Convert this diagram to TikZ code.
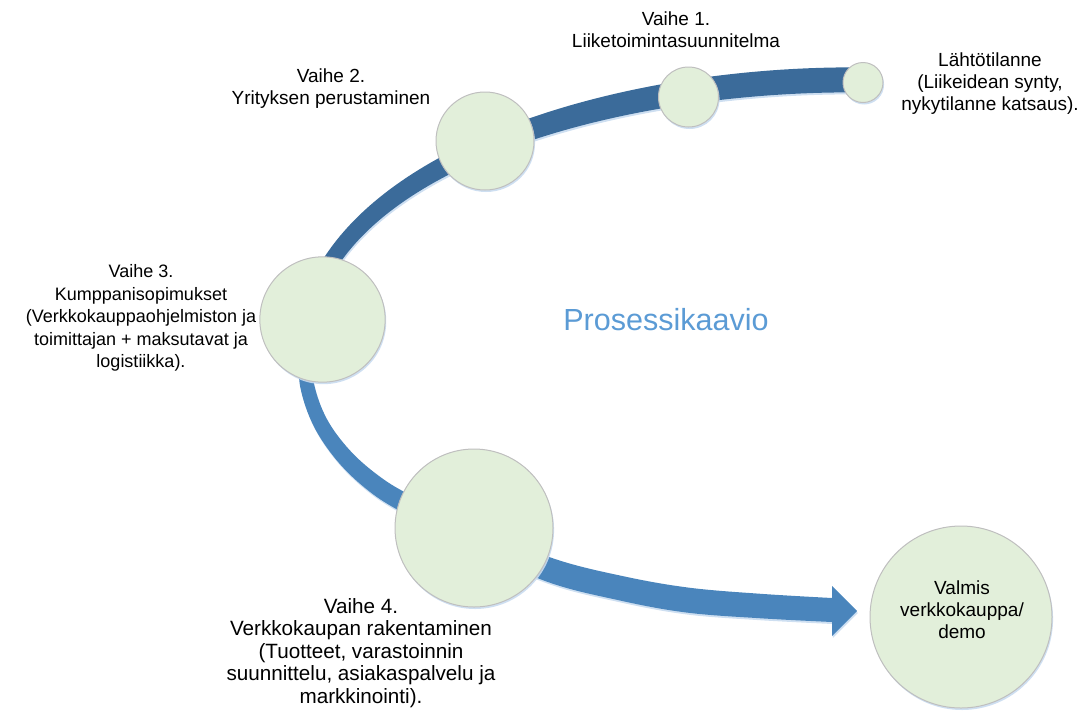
\documentclass[tikz,border=0pt]{standalone}
\usepackage{fontspec}
\setmainfont{Liberation Sans}
\usetikzlibrary{shadows}
\definecolor{banddark}{HTML}{3B6B9A}
\definecolor{bandlight}{HTML}{4A85BC}
\definecolor{circfill}{HTML}{E2EFDA}
\definecolor{circline}{HTML}{BFBFBF}
\definecolor{glow}{HTML}{C9DCF0}
\definecolor{titleblue}{HTML}{5B9BD5}
\begin{document}
\begin{tikzpicture}[x=0.75pt,y=-0.75pt,
  stage/.style={circle, fill=circfill, draw=circline, line width=0.75pt, inner sep=0pt,
    drop shadow={shadow xshift=0.8pt, shadow yshift=-1.5pt, fill=glow, opacity=0.9}},
  lbl/.style={align=center, font=\fontsize{14.25}{16.5}\selectfont, text=black, inner sep=0pt},
  bandshadow/.style={drop shadow={shadow xshift=0.6pt, shadow yshift=-1.5pt, fill=glow, opacity=0.9}}]
\useasboundingbox (0,0) rectangle (1084,711);

% upper (dark) band
\fill[banddark, bandshadow]
  (868,67.5) .. controls (640,64) and (380,135) .. (311,281)
  -- (324.8,289.2) .. controls (388,152) and (650,89) .. (868,92.5)
  -- cycle;

% lower (light) band with arrow head
\fill[bandlight, bandshadow]
  plot[smooth, tension=0.6] coordinates {(298.5,350.2) (300.2,386.8) (313.4,425.5) (336.7,460.3) (366.2,488.9) (400,511.1) (469.7,546.6) (546.5,581.5) (617.7,600) (685.5,612.4) (759.3,618.2) (832,622)}
  -- (832,636) -- (857,611) -- (832,586)
  -- plot[smooth, tension=0.6] coordinates {(832,598) (760.7,593.8) (688.5,587.6) (622.3,576) (553.5,558.5) (478.3,527.4) (410,494.9) (377.8,475.1) (349.3,449.7) (326.6,418.5) (313.8,383.2) (311.5,349.8)}
  -- cycle;

% stage circles
\node[stage, minimum size=30pt]    (s0) at (863,82.5) {};
\node[stage, minimum size=45pt]    (s1) at (688.5,97) {};
\node[stage, minimum size=73.5pt]  (s2) at (485,141) {};
\node[stage, minimum size=94pt]    (s3) at (322.5,319.5) {};
\node[stage, minimum size=118.5pt] (s4) at (474,528) {};
\node[stage, minimum size=136.5pt] (s5) at (961,617) {};

% labels
\node[lbl] (t0) at (990,83.5) {Lähtötilanne\\(Liikeidean synty,\\nykytilanne katsaus).};
\node[lbl] (t1) at (676,30) {Vaihe 1.\\Liiketoimintasuunnitelma};
\node[lbl] (t2) at (331,89) {Vaihe 2.\\Yrityksen perustaminen};
\node[lbl, font=\fontsize{13.5}{16.9}\selectfont] (t3) at (141,318) {Vaihe 3.\\Kumppanisopimukset\\(Verkkokauppaohjelmiston ja\\toimittajan + maksutavat ja\\logistiikka).};
\node[lbl, font=\fontsize{15.5}{16.9}\selectfont] (t4) at (361,653) {Vaihe 4.\\Verkkokaupan rakentaminen\\(Tuotteet, varastoinnin\\suunnittelu, asiakaspalvelu ja\\markkinointi).};
\node[lbl] (t5) at (962,610) {Valmis\\verkkokauppa/\\demo};
\node[font=\fontsize{22.9}{27}\selectfont, text=titleblue, inner sep=0pt] (title) at (666,320) {Prosessikaavio};
\end{tikzpicture}
\end{document}
